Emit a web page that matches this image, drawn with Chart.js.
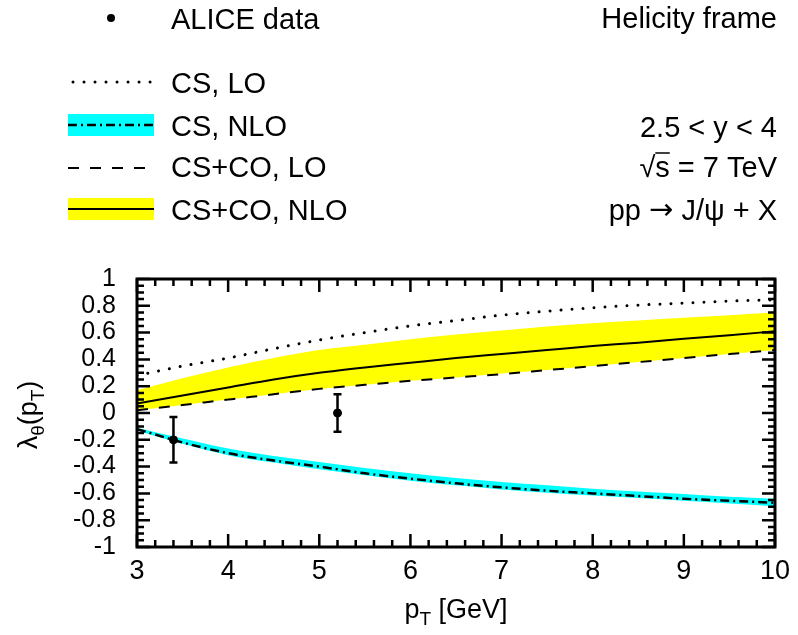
<!DOCTYPE html>
<html lang="en">
  <head>
    <meta charset="utf-8" />
    <title>Polarization lambda_theta vs pT</title>
    <style>
      * {
        margin: 0;
        padding: 0;
      }
      body {
        background: white;
      }
      .chartBox {
        width: 798px;
        height: 635px;
      }
    </style>
  </head>
  <body>
    <div class="chartBox">
      <canvas id="myChart" width="798" height="635"></canvas>
    </div>
    <script src="https://cdn.jsdelivr.net/npm/chart.js"></script>
    <script>
      // data
      const pt = [3, 3.5, 4, 4.5, 5, 5.5, 6, 6.5, 7, 7.5, 8, 8.5, 9, 9.5, 10];
      const csLO = [0.28, 0.35, 0.41, 0.48, 0.545, 0.6, 0.65, 0.69, 0.73, 0.76, 0.785, 0.805, 0.82, 0.835, 0.845];
      const csNLO = [-0.12, -0.22, -0.3, -0.355, -0.4, -0.45, -0.49, -0.525, -0.555, -0.58, -0.6, -0.62, -0.64, -0.655, -0.67];
      const csNLOHigh = [-0.11, -0.19, -0.265, -0.32, -0.365, -0.41, -0.45, -0.485, -0.515, -0.54, -0.565, -0.585, -0.605, -0.625, -0.64];
      const csNLOLow = [-0.13, -0.23, -0.315, -0.37, -0.42, -0.465, -0.505, -0.54, -0.57, -0.595, -0.615, -0.635, -0.655, -0.675, -0.695];
      const coLO = [0.02, 0.06, 0.1, 0.14, 0.18, 0.21, 0.24, 0.265, 0.29, 0.32, 0.35, 0.38, 0.41, 0.44, 0.47];
      const coNLO = [0.07, 0.13, 0.19, 0.25, 0.3, 0.34, 0.375, 0.41, 0.44, 0.47, 0.5, 0.525, 0.555, 0.58, 0.61];
      const coNLOHigh = [0.17, 0.26, 0.34, 0.41, 0.47, 0.51, 0.55, 0.585, 0.615, 0.645, 0.67, 0.69, 0.71, 0.73, 0.75];
      const coNLOLow = [0.02, 0.06, 0.1, 0.14, 0.18, 0.21, 0.24, 0.265, 0.295, 0.32, 0.35, 0.38, 0.41, 0.44, 0.47];

      const alicePt = [3.4, 5.2];
      const aliceVal = [-0.2, 0.0];
      const aliceErr = [0.17, 0.14];

      const legendLabels = ['ALICE data', 'CS, LO', 'CS, NLO', 'CS+CO, LO', 'CS+CO, NLO'];
      const infoLabels = ['Helicity frame', '2.5 < y < 4', '\u221As = 7 TeV'];
      const processParts = ['pp ', '\u2192', ' J/\u03C8 + X'];

      const FONT = '"Liberation Sans", Arial, sans-serif';
      const YELLOW = '#ffff00';
      const CYAN = '#00ffff';
      const DOTS = [0.01, 11];
      const DASH = [11, 11];
      const DASHDOT = [9, 4, 2, 4];

      const xy = (xs, ys) => xs.map((x, i) => ({ x: x, y: ys[i] }));

      const lineSet = (label, ys, dash, width, cap) => ({
        label: label,
        data: xy(pt, ys),
        borderColor: 'black',
        borderWidth: width,
        borderDash: dash,
        borderCapStyle: cap || 'butt',
        pointRadius: 0,
        showLine: true,
        fill: false,
        cubicInterpolationMode: 'monotone',
        order: 1,
      });

      const bandSet = (ys, color, fill) => ({
        data: xy(pt, ys),
        borderWidth: 0,
        borderColor: 'rgba(0,0,0,0)',
        backgroundColor: color,
        pointRadius: 0,
        showLine: true,
        fill: fill,
        cubicInterpolationMode: 'monotone',
        order: 10,
      });

      // rich text with subscripts: parts = [[text, isSub], ...]
      function richWidth(ctx, parts, size, subSize) {
        let w = 0;
        parts.forEach((p) => {
          ctx.font = (p[1] ? subSize : size) + 'px ' + FONT;
          w += ctx.measureText(p[0]).width;
        });
        return w;
      }
      function drawRich(ctx, parts, x, y, size, subSize) {
        ctx.textAlign = 'left';
        ctx.textBaseline = 'alphabetic';
        parts.forEach((p) => {
          ctx.font = (p[1] ? subSize : size) + 'px ' + FONT;
          ctx.fillText(p[0], x, p[1] ? y + size * 0.25 : y);
          x += ctx.measureText(p[0]).width;
        });
      }

      function legendSample(ctx, y, dash, width, band) {
        if (band) {
          ctx.fillStyle = band;
          ctx.fillRect(68, y - 11, 86, 22);
        }
        ctx.save();
        ctx.strokeStyle = 'black';
        ctx.lineWidth = width;
        ctx.setLineDash(dash);
        ctx.lineCap = dash === DOTS ? 'round' : 'butt';
        ctx.beginPath();
        ctx.moveTo(dash === DOTS ? 73 : 68, y);
        ctx.lineTo(154, y);
        ctx.stroke();
        ctx.restore();
      }

      // frame, inward ticks, error bars, legend and labels
      const decor = {
        id: 'decor',
        beforeDatasetsDraw(chart) {
          const { ctx, scales: { x, y } } = chart;
          ctx.save();
          ctx.strokeStyle = 'black';
          ctx.lineWidth = 2.5;
          alicePt.forEach((p, i) => {
            const px = x.getPixelForValue(p);
            const top = y.getPixelForValue(aliceVal[i] + aliceErr[i]);
            const bot = y.getPixelForValue(aliceVal[i] - aliceErr[i]);
            ctx.beginPath();
            ctx.moveTo(px, top);
            ctx.lineTo(px, bot);
            ctx.moveTo(px - 4, top);
            ctx.lineTo(px + 4, top);
            ctx.moveTo(px - 4, bot);
            ctx.lineTo(px + 4, bot);
            ctx.stroke();
          });
          ctx.restore();
        },
        afterDraw(chart) {
          const { ctx, chartArea: { left, right, top, bottom }, scales: { x, y } } = chart;
          ctx.save();
          ctx.strokeStyle = 'black';

          // ticks
          ctx.lineWidth = 2.5;
          ctx.beginPath();
          for (let k = 0; k <= 35; k++) {
            const px = x.getPixelForValue(3 + k * 0.2);
            const len = k % 5 === 0 ? 13 : 7;
            ctx.moveTo(px, bottom);
            ctx.lineTo(px, bottom - len);
            ctx.moveTo(px, top);
            ctx.lineTo(px, top + len);
          }
          for (let k = 0; k <= 40; k++) {
            const py = y.getPixelForValue(-1 + k * 0.05);
            const len = k % 4 === 0 ? 13 : 7;
            ctx.moveTo(left, py);
            ctx.lineTo(left + len, py);
            ctx.moveTo(right, py);
            ctx.lineTo(right - len, py);
          }
          ctx.stroke();

          // frame
          ctx.lineWidth = 3;
          ctx.strokeRect(left, top, right - left, bottom - top);

          // axis titles
          ctx.fillStyle = 'black';
          const xt = [['p', false], ['T', true], [' [GeV]', false]];
          const xw = richWidth(ctx, xt, 27, 19);
          drawRich(ctx, xt, (left + right) / 2 - xw / 2, 618, 27, 19);

          const yt = [['\u03BB', false], ['\u03B8', true], ['(p', false], ['T', true], [')', false]];
          ctx.save();
          ctx.translate(37, 415);
          ctx.rotate(-Math.PI / 2);
          const yw = richWidth(ctx, yt, 27, 19);
          drawRich(ctx, yt, -yw / 2, 0, 27, 19);
          ctx.restore();

          // legend
          ctx.beginPath();
          ctx.arc(111, 18, 4, 0, Math.PI * 2);
          ctx.fill();
          legendSample(ctx, 82, DOTS, 3, null);
          legendSample(ctx, 125, DASHDOT, 2.5, CYAN);
          legendSample(ctx, 168, DASH, 2, null);
          legendSample(ctx, 209, [], 2, YELLOW);

          ctx.fillStyle = 'black';
          ctx.font = '29px ' + FONT;
          ctx.textAlign = 'left';
          ctx.textBaseline = 'alphabetic';
          const legendY = [29, 93, 136, 177, 220];
          legendLabels.forEach((t, i) => ctx.fillText(t, 171, legendY[i]));

          // right-hand info
          ctx.textAlign = 'right';
          const infoY = [28, 137, 177];
          infoLabels.forEach((t, i) => ctx.fillText(t, 777, infoY[i]));
          // bar over the s of sqrt(s)
          const tail = ctx.measureText(' = 7 TeV').width;
          const sw = ctx.measureText('s').width;
          ctx.lineWidth = 1.5;
          ctx.beginPath();
          ctx.moveTo(777 - tail - sw, 153);
          ctx.lineTo(777 - tail, 153);
          ctx.stroke();

          // process line, with a wider arrow glyph
          let px = 777;
          ctx.fillText(processParts[2], px, 220);
          px -= ctx.measureText(processParts[2]).width;
          ctx.font = '29px "DejaVu Sans", sans-serif';
          ctx.fillText(processParts[1], px, 219);
          px -= ctx.measureText(processParts[1]).width;
          ctx.font = '29px ' + FONT;
          ctx.fillText(processParts[0], px, 220);
          ctx.restore();
        },
      };

      const config = {
        type: 'scatter',
        data: {
          datasets: [
            {
              label: legendLabels[0],
              data: xy(alicePt, aliceVal),
              backgroundColor: 'black',
              borderColor: 'black',
              pointRadius: 4,
              showLine: false,
              order: 0,
            },
            lineSet(legendLabels[1], csLO, DOTS, 3, 'round'),
            lineSet(legendLabels[2], csNLO, DASHDOT, 2.5),
            lineSet(legendLabels[3], coLO, DASH, 2),
            lineSet(legendLabels[4], coNLO, [], 2),
            bandSet(coNLOHigh, YELLOW, '+1'),
            bandSet(coNLOLow, YELLOW, false),
            bandSet(csNLOHigh, CYAN, '+1'),
            bandSet(csNLOLow, CYAN, false),
          ],
        },
        options: {
          responsive: false,
          animation: false,
          devicePixelRatio: 1,
          layout: {
            padding: { top: 279, right: 20, left: 0, bottom: 0 },
          },
          plugins: {
            legend: { display: false },
            tooltip: { enabled: false },
          },
          scales: {
            x: {
              type: 'linear',
              min: 3,
              max: 10,
              grid: { display: false, drawTicks: false },
              border: { display: false },
              ticks: {
                stepSize: 1,
                padding: 8,
                autoSkip: false,
                color: 'black',
                font: { family: FONT, size: 27 },
                maxRotation: 0,
              },
              afterFit(scale) {
                scale.height = 88;
              },
            },
            y: {
              min: -1,
              max: 1,
              grid: { display: false, drawTicks: false },
              border: { display: false },
              ticks: {
                stepSize: 0.2,
                padding: 21,
                autoSkip: false,
                color: 'black',
                font: { family: FONT, size: 25, lineHeight: 1 },
                callback: (v) => String(Number(v.toFixed(1))),
              },
              afterFit(scale) {
                scale.width = 137;
              },
            },
          },
        },
        plugins: [decor],
      };

      const myChart = new Chart(document.getElementById('myChart'), config);
    </script>
  </body>
</html>
